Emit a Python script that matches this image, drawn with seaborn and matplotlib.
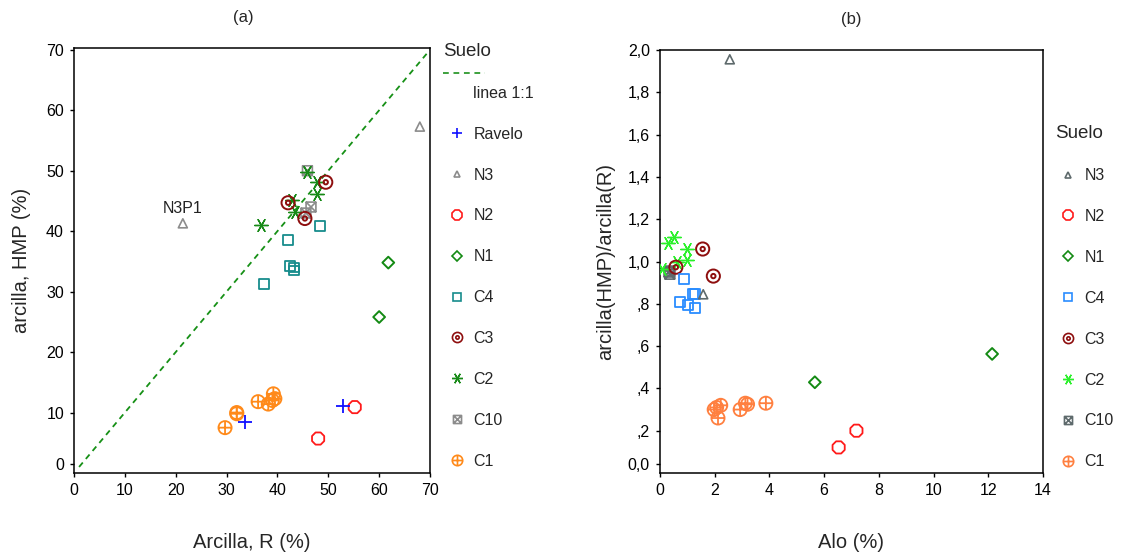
import matplotlib
matplotlib.use("Agg")
import numpy as np
import pandas as pd
import matplotlib.pyplot as plt
import seaborn as sns
from matplotlib.path import Path
from matplotlib.lines import Line2D
from matplotlib.legend_handler import HandlerBase
from matplotlib.transforms import ScaledTranslation

# ---------------- panel (a): clay by R method vs clay by HMP method (%)
ravelo_r = [52.8, 33.6]
ravelo_hmp = [11.0, 8.4]
n3_r = [21.4, 68.0]
n3_hmp = [41.3, 57.3]
n2_r = [55.2, 48.0]
n2_hmp = [10.9, 5.7]
n1_r = [61.8, 60.0]
n1_hmp = [34.8, 25.8]
c4_r = [48.4, 42.1, 42.4, 43.2, 43.2, 37.4]
c4_hmp = [40.8, 38.5, 34.3, 34.0, 33.5, 31.2]
c3_r = [49.5, 42.1, 45.4]
c3_hmp = [48.1, 44.7, 42.1]
c2_r = [45.8, 47.7, 47.8, 42.8, 43.5, 36.7]
c2_hmp = [49.8, 48.1, 46.1, 45.2, 43.2, 41.0]
c10_r = [45.9, 46.6, 45.6]
c10_hmp = [50.0, 44.0, 43.0]
c1_r = [29.7, 32.0, 32.0, 36.2, 38.2, 39.2, 39.5, 39.0]
c1_hmp = [7.5, 9.8, 10.0, 11.8, 11.4, 13.1, 12.3, 12.0]

# reference 1:1 line
line_x = [1, 70]
line_y = [1, 70]

# ---------------- panel (b): Alo (%) vs clay ratio HMP / R
n3_alo = [2.55, 1.58]
n3_ratio = [1.956, 0.845]
n2_alo = [6.53, 7.18]
n2_ratio = [0.121, 0.200]
n1_alo = [5.66, 12.14]
n1_ratio = [0.429, 0.563]
c4_alo = [0.89, 1.20, 1.28, 0.73, 1.01, 1.28]
c4_ratio = [0.916, 0.845, 0.845, 0.810, 0.794, 0.782]
c3_alo = [1.56, 0.58, 1.95]
c3_ratio = [1.059, 0.973, 0.931]
c2_alo = [0.30, 0.51, 1.00, 1.00, 0.63, 0.06]
c2_ratio = [1.089, 1.114, 1.059, 1.007, 0.996, 0.963]
c10_alo = [0.33, 0.36, 0.35]
c10_ratio = [0.950, 0.940, 0.955]
c1_alo = [1.98, 2.07, 2.22, 2.12, 2.93, 3.12, 3.20, 3.87]
c1_ratio = [0.300, 0.310, 0.320, 0.260, 0.300, 0.330, 0.325, 0.330]

y_ticks_a = [0, 10, 20, 30, 40, 50, 60, 70]
x_ticks_a = [0, 10, 20, 30, 40, 50, 60, 70]
y_ticks_b = [0.0, 0.2, 0.4, 0.6, 0.8, 1.0, 1.2, 1.4, 1.6, 1.8, 2.0]
y_labels_b = ["0,0", ",2", ",4", ",6", ",8", "1,0", "1,2", "1,4", "1,6", "1,8", "2,0"]
x_ticks_b = [0, 2, 4, 6, 8, 10, 12, 14]

soils_a = ["Ravelo", "N3", "N2", "N1", "C4", "C3", "C2", "C10", "C1"]
soils_b = ["N3", "N2", "N1", "C4", "C3", "C2", "C10", "C1"]

data_a = {
    "Ravelo": (ravelo_r, ravelo_hmp), "N3": (n3_r, n3_hmp), "N2": (n2_r, n2_hmp),
    "N1": (n1_r, n1_hmp), "C4": (c4_r, c4_hmp), "C3": (c3_r, c3_hmp),
    "C2": (c2_r, c2_hmp), "C10": (c10_r, c10_hmp), "C1": (c1_r, c1_hmp),
}
data_b = {
    "N3": (n3_alo, n3_ratio), "N2": (n2_alo, n2_ratio), "N1": (n1_alo, n1_ratio),
    "C4": (c4_alo, c4_ratio), "C3": (c3_alo, c3_ratio), "C2": (c2_alo, c2_ratio),
    "C10": (c10_alo, c10_ratio), "C1": (c1_alo, c1_ratio),
}

# ---------------- marker shapes
circle = Path.unit_circle()
ring_dot = Path.make_compound_path(circle, Path.circle((0, 0), 0.33))
plus_lines = Path([(-1, 0), (1, 0), (0, -1), (0, 1)],
                  [Path.MOVETO, Path.LINETO, Path.MOVETO, Path.LINETO])
circle_plus = Path.make_compound_path(circle, plus_lines)
square = Path([(-1, -1), (1, -1), (1, 1), (-1, 1), (-1, -1)],
              [Path.MOVETO, Path.LINETO, Path.LINETO, Path.LINETO, Path.CLOSEPOLY])
cross_lines = Path([(-1, -1), (1, 1), (-1, 1), (1, -1)],
                   [Path.MOVETO, Path.LINETO, Path.MOVETO, Path.LINETO])
square_x = Path.make_compound_path(square, cross_lines)
asterisk = (6, 2, 90)

# name: (marker, size, hollow, legend markersize, line width)
shapes = {
    "Ravelo": ("+", 95, False, 7.5, 1.3),
    "N3": ("^", 42, True, 4.8, 1.2),
    "N2": ("8", 90, True, 7.5, 1.3),
    "N1": ("D", 36, True, 4.6, 1.4),
    "C4": ("s", 50, True, 5.8, 1.3),
    "C3": (ring_dot, 90, True, 7.3, 1.4),
    "C2": (asterisk, 95, False, 7.8, 1.0),
    "C10": (square_x, 50, True, 5.8, 1.2),
    "C1": (circle_plus, 90, True, 7.5, 1.3),
}
colors_a = {
    "Ravelo": "#1010FF", "N3": "#8C8C8C", "N2": "#FF1A1A", "N1": "#138A13",
    "C4": "#178C8C", "C3": "#8E0E0E", "C2": "#178A17", "C10": "#8C8C8C",
    "C1": "#FF8A1A",
}
colors_b = {
    "N3": "#5E6A6C", "N2": "#FF1A1A", "N1": "#138A13", "C4": "#2A8CFF",
    "C3": "#8E0E0E", "C2": "#2AF02A", "C10": "#5E6A6C", "C1": "#FF8040",
}

sns.set_style("ticks")
plt.rcParams["font.family"] = ["Liberation Sans", "DejaVu Sans"]
plt.rcParams["axes.linewidth"] = 1.1
plt.rcParams["xtick.major.size"] = 3.2
plt.rcParams["ytick.major.size"] = 3.2
plt.rcParams["xtick.major.width"] = 1.0
plt.rcParams["ytick.major.width"] = 1.0
plt.rcParams["xtick.color"] = "black"
plt.rcParams["ytick.color"] = "black"
plt.rcParams["axes.edgecolor"] = "black"

W, H = 1121, 556
fig = plt.figure(figsize=(W / 100, H / 100), dpi=100)
ax_a = fig.add_axes([74 / W, (H - 473) / H, 356 / W, 425 / H])
ax_b = fig.add_axes([660 / W, (H - 473) / H, 383 / W, 423 / H])


def draw_group(ax, x, y, name, color):
    marker, size, hollow, _, lw = shapes[name]
    if hollow:
        sns.scatterplot(x=x, y=y, ax=ax, marker=marker, s=size,
                        facecolor="none", edgecolor=color, linewidth=lw,
                        legend=False, zorder=3)
    else:
        sns.scatterplot(x=x, y=y, ax=ax, marker=marker, s=size,
                        color=color, linewidth=lw, legend=False, zorder=3)


def legend_handle(name, color):
    marker, _, hollow, ms, lw = shapes[name]
    return Line2D([], [], linestyle="none", marker=marker, markersize=ms,
                  markerfacecolor="none" if hollow else color,
                  markeredgecolor=color, markeredgewidth=min(lw, 1.2),
                  color=color)


class RaisedDashHandler(HandlerBase):
    """Draws the line sample above its label row, stretched toward the text."""

    def __init__(self, raise_pt, length_pt, **kw):
        super().__init__(**kw)
        self.raise_pt = raise_pt
        self.length_pt = length_pt

    def create_artists(self, legend, orig_handle, xdescent, ydescent,
                       width, height, fontsize, trans):
        y = (height - ydescent) / 2 + self.raise_pt
        line = Line2D([-xdescent, -xdescent + self.length_pt], [y, y])
        line.update_from(orig_handle)
        line.set_transform(trans)
        return [line]


# ---------------- panel (a)
sns.lineplot(x=line_x, y=line_y, ax=ax_a, color="#169016", linewidth=1.3,
             linestyle=(0, (3.2, 2.6)), zorder=2)
for name in soils_a[::-1]:
    xs, ys = data_a[name]
    draw_group(ax_a, xs, ys, name, colors_a[name])
ax_a.annotate("N3P1", xy=(n3_r[0], n3_hmp[0]), xytext=(0, 5),
              textcoords="offset points", ha="center", va="bottom",
              fontsize=11.5, color="#222222")

ax_a.set_xlim(0, 70)
ax_a.set_ylim(0, 70.3)
ax_a.set_xticks(x_ticks_a)
ax_a.set_yticks(y_ticks_a)
ax_a.set_xlabel("Arcilla, R (%)", fontsize=14.5, labelpad=25)
ax_a.set_ylabel("arcilla, HMP (%)", fontsize=14.5, labelpad=11)
ax_a.set_title("(a)", fontsize=12, x=0.475, pad=19)

line_handle = Line2D([], [], color="#2E9A2E", linewidth=1.3,
                     linestyle=(0, (3.2, 2.6)))
handles_a = [line_handle] + [legend_handle(n, colors_a[n]) for n in soils_a]
labels_a = ["linea 1:1"] + soils_a
ax_a.legend(handles_a, labels_a, title="Suelo", loc="upper left",
            bbox_to_anchor=(1.0365, 1.012), frameon=False,
            borderpad=0, borderaxespad=0, fontsize=11.5,
            title_fontsize=13.5, handlelength=1.75,
            handletextpad=0.15, labelspacing=1.62, alignment="left",
            handler_map={line_handle: RaisedDashHandler(13.8, 30)})

# ---------------- panel (b)
for name in soils_b[::-1]:
    xs, ys = data_b[name]
    draw_group(ax_b, xs, ys, name, colors_b[name])

ax_b.set_xlim(0, 14)
ax_b.set_ylim(0, 2.0)
ax_b.set_xticks(x_ticks_b)
ax_b.set_yticks(y_ticks_b, y_labels_b)
ax_b.set_xlabel("Alo (%)", fontsize=14.5, labelpad=25)
ax_b.set_ylabel("arcilla(HMP)/arcilla(R)", fontsize=14.5, labelpad=9)
ax_b.set_title("(b)", fontsize=12, pad=19)

handles_b = [legend_handle(n, colors_b[n]) for n in soils_b]
ax_b.legend(handles_b, soils_b, title="Suelo", loc="upper left",
            bbox_to_anchor=(1.031, 0.822), frameon=False, borderpad=0,
            borderaxespad=0, fontsize=11.5, title_fontsize=13.5,
            handlelength=1.6, handletextpad=0.25, labelspacing=1.62,
            alignment="left")

for ax in (ax_a, ax_b):
    for side in ("top", "right", "left", "bottom"):
        ax.spines[side].set_visible(True)
        ax.spines[side].set_color("black")
    ax.tick_params(axis="both", labelsize=11.5, pad=4, direction="out")
    # lowest y label sits a little above the origin
    t0 = ax.yaxis.get_major_ticks()[0]
    lift = ScaledTranslation(0, 0.09, fig.dpi_scale_trans)
    t0.label1.set_transform(t0.label1.get_transform() + lift)
    t0.tick1line.set_transform(t0.tick1line.get_transform() + lift)

fig.savefig("out.png", dpi=100)
